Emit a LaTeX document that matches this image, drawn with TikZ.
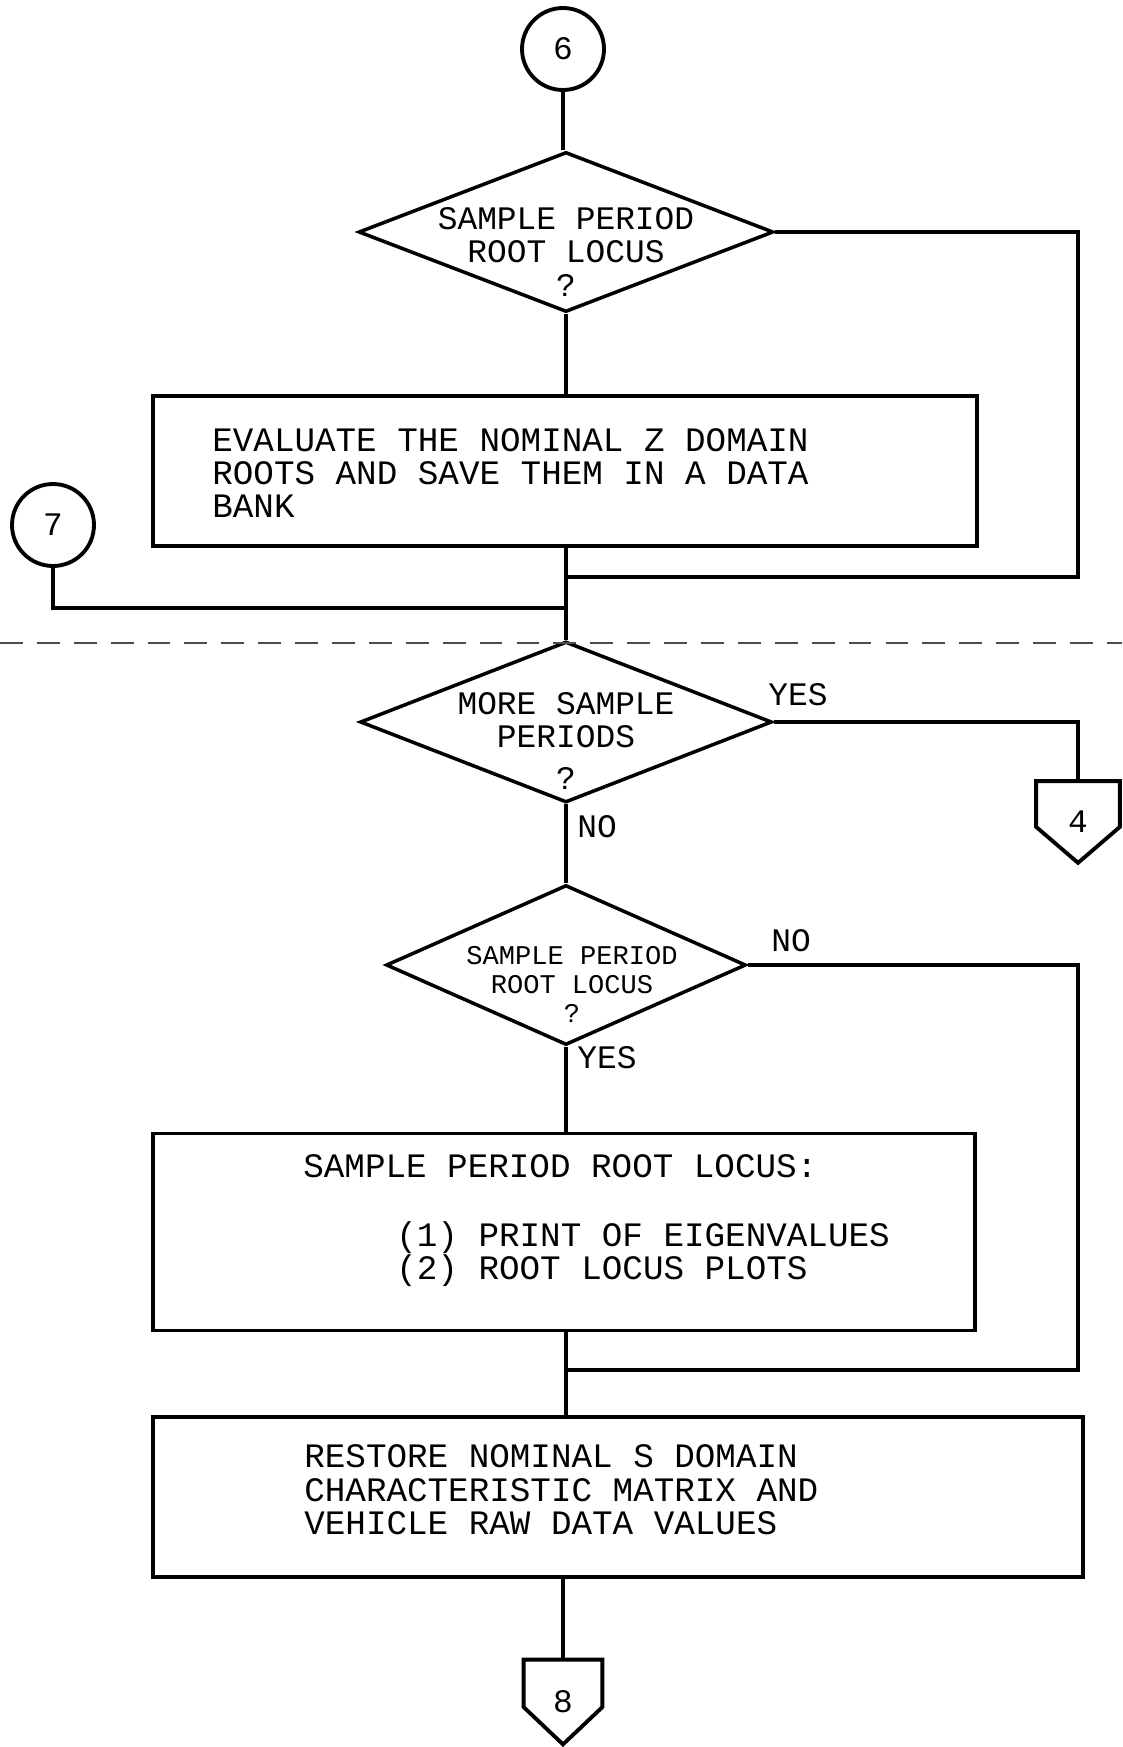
\documentclass[tikz,border=0pt]{standalone}
\usepackage{fontspec}
\newfontfamily\lpfont{Liberation Mono}
\usetikzlibrary{shapes.geometric,calc}
\newcommand{\boxfont}{\lpfont\fontsize{19.5}{19}\selectfont}
\newcommand{\decfont}{\lpfont\fontsize{18.7}{18.8}\selectfont}
\newcommand{\smdecfont}{\lpfont\fontsize{15.4}{16.5}\selectfont}
\tikzset{
  flow/.style     = {line width=2.2pt},
  procbox/.style  = {draw, line width=2.2pt, rectangle, inner sep=0pt},
  decision/.style = {draw, line width=2pt, diamond, inner sep=0pt},
  connector/.style= {draw, line width=2.2pt, circle, inner sep=0pt, font=\decfont},
  offpage/.style  = {rectangle, inner sep=0pt, font=\decfont},
  boxtext/.style  = {anchor=west, align=left, inner sep=0pt, font=\boxfont},
  dectext/.style  = {align=center, inner sep=0pt, font=\decfont},
  branch/.style   = {inner sep=0pt, font=\decfont},
  pagebreak/.style= {line width=0.9pt, black!70, dash pattern=on 13pt off 8pt},
}
% off-page connector outline drawn round a named node
\newcommand{\pentagon}[1]{\draw[flow] (#1.north west) -- (#1.north east)
  -- ($(#1.north east)!0.56!(#1.south east)$) -- (#1.south)
  -- ($(#1.north west)!0.56!(#1.south west)$) -- cycle;}

\begin{document}
\begin{tikzpicture}[x=0.02cm,y=-0.02cm]
\useasboundingbox (0,0) rectangle (1122,1747);
% connectors and decisions
\node[connector,minimum size=1.64cm] (c6) at (563,49) {6};
\node[decision,minimum width=8.3cm,minimum height=3.2cm] (d1) at (566,232) {};
\node[dectext] (d1txt) at (566,252) {SAMPLE PERIOD\\ROOT LOCUS\\?};
\node[procbox,minimum width=16.48cm,minimum height=3.0cm] (b1) at (565,471) {};
\node[boxtext] (b1txt) at (212,473)
  {EVALUATE THE NOMINAL Z DOMAIN\\ROOTS AND SAVE THEM IN A DATA\\BANK};
\node[connector,minimum size=1.64cm] (c7) at (53,525) {7};
\coordinate (r1) at (1078,577);
\coordinate (j1) at (566,577);
\coordinate (j2) at (566,608);
\coordinate (brkL) at (0,643);
\coordinate (brkR) at (1122,643);
\node[decision,minimum width=8.24cm,minimum height=3.22cm] (d2) at (566,722) {};
\node[dectext] (d2txt) at (566,741) {MORE SAMPLE\\PERIODS\\[5pt]?};
\node[branch] (d2yes) at (798,695) {YES};
\node[branch] (d2no) at (597,827) {NO};
\node[offpage,minimum width=1.66cm,minimum height=1.62cm] (c4) at (1078,822) {4};
\node[decision,minimum width=7.2cm,minimum height=3.2cm] (d3) at (566,965) {};
\node[dectext,font=\smdecfont] (d3txt) at (572,984) {SAMPLE PERIOD\\ROOT LOCUS\\?};
\node[branch] (d3no) at (791,941) {NO};
\node[branch] (d3yes) at (607,1058) {YES};
\node[procbox,minimum width=16.44cm,minimum height=3.94cm] (b2) at (564,1232) {};
\node[boxtext] (b2txt) at (303,1221)
  {SAMPLE PERIOD ROOT LOCUS:\\[20pt]
   \hspace*{1.86cm}(1) PRINT OF EIGENVALUES\\
   \hspace*{1.86cm}(2) ROOT LOCUS PLOTS};
\coordinate (r3) at (1078,1370);
\coordinate (j3) at (566,1370);
\node[procbox,minimum width=18.6cm,minimum height=3.2cm] (b3) at (618,1497) {};
\node[boxtext] (b3txt) at (304,1490)
  {RESTORE NOMINAL S DOMAIN\\CHARACTERISTIC MATRIX AND\\VEHICLE RAW DATA VALUES};
\node[offpage,minimum width=1.56cm,minimum height=1.68cm] (c8) at (563,1702) {8};
\pentagon{c4}
\pentagon{c8}
% flow lines
\draw[flow] (c6) -- (c6 |- d1.north);
\draw[flow] (d1.south) -- (d1.south |- b1.north);
\draw[flow] (d1.east) -| (r1) -- (j1);
\draw[flow] (b1.south -| j1) -- (d2.north);
\draw[flow] (c7.south) |- (j2);
\draw[pagebreak] (brkL) -- (brkR);
\draw[flow] (d2.east) -| (c4.north);
\draw[flow] (d2.south) -- (d3.north);
\draw[flow] (d3.east) -| (r3) -- (j3);
\draw[flow] (d3.south) -- (d3.south |- b2.north);
\draw[flow] (b2.south -| j3) -- (b3.north -| j3);
\draw[flow] (b3.south -| c8.north) -- (c8.north);
\end{tikzpicture}
\end{document}
